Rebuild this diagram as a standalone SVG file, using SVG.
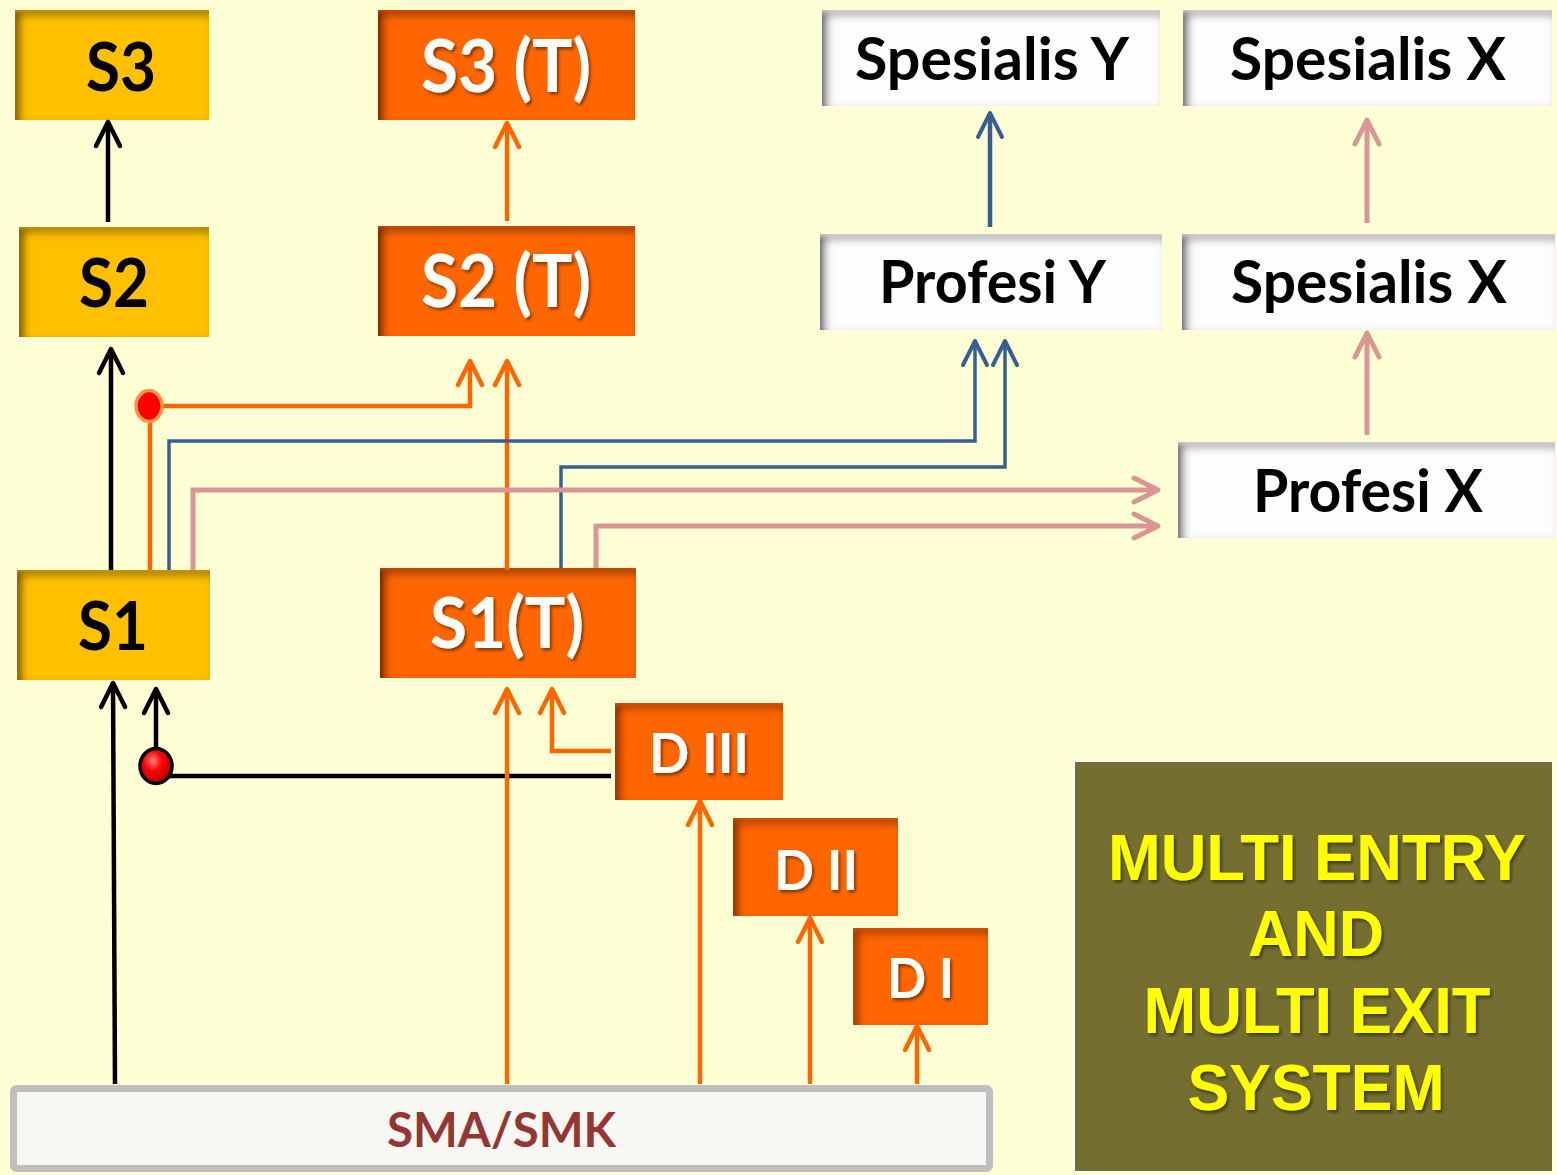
<svg xmlns="http://www.w3.org/2000/svg" width="1557" height="1175" viewBox="0 0 1557 1175">
<style>
.t{font-family:Lato,"Open Sans","Liberation Sans",sans-serif;font-weight:700}
.dark{fill:#000}
.wh{fill:#fff}
.sma{fill:#943634}
.ttl{font-family:"Liberation Sans",Arial,sans-serif;font-weight:700;fill:#FFFF00;font-size:64px;text-anchor:middle}
.yel{fill:#FFC000}
.org{fill:#FF6600}
.wbox{fill:#FDFDFD}
.c{fill:none;stroke-linejoin:miter}
.k{stroke:#000;stroke-width:4.5}
.o{stroke:#FF6600;stroke-width:4.5}
.b{stroke:#366092;stroke-width:3.5}
.p{stroke:#D99694;stroke-width:5}
</style>
<defs>
<filter id="inY" x="-5%" y="-5%" width="110%" height="110%">
<feComponentTransfer in="SourceAlpha"><feFuncA type="table" tableValues="1 0"/></feComponentTransfer>
<feGaussianBlur stdDeviation="4"/>
<feOffset dx="5" dy="5" result="off"/>
<feFlood flood-color="#4a3600" flood-opacity="1"/>
<feComposite in2="off" operator="in"/>
<feComposite in2="SourceAlpha" operator="in" result="sh"/>
<feMerge><feMergeNode in="SourceGraphic"/><feMergeNode in="sh"/></feMerge>
</filter>
<filter id="inO" x="-5%" y="-5%" width="110%" height="110%">
<feComponentTransfer in="SourceAlpha"><feFuncA type="table" tableValues="1 0"/></feComponentTransfer>
<feGaussianBlur stdDeviation="4"/>
<feOffset dx="5" dy="5" result="off"/>
<feFlood flood-color="#4a1800" flood-opacity="1"/>
<feComposite in2="off" operator="in"/>
<feComposite in2="SourceAlpha" operator="in" result="sh"/>
<feMerge><feMergeNode in="SourceGraphic"/><feMergeNode in="sh"/></feMerge>
</filter>
<filter id="inW" x="-5%" y="-5%" width="110%" height="110%">
<feComponentTransfer in="SourceAlpha"><feFuncA type="table" tableValues="1 0"/></feComponentTransfer>
<feGaussianBlur stdDeviation="4"/>
<feOffset dx="5" dy="5" result="off"/>
<feFlood flood-color="#505050" flood-opacity="1"/>
<feComposite in2="off" operator="in"/>
<feComposite in2="SourceAlpha" operator="in" result="sh"/>
<feMerge><feMergeNode in="SourceGraphic"/><feMergeNode in="sh"/></feMerge>
</filter>
<filter id="ts" x="-10%" y="-20%" width="120%" height="140%">
<feDropShadow dx="2" dy="2.5" stdDeviation="1.5" flood-color="#000" flood-opacity="0.45"/>
</filter>
<radialGradient id="redball" cx="0.4" cy="0.35" r="0.65">
<stop offset="0" stop-color="#FF8080"/>
<stop offset="0.45" stop-color="#FF0000"/>
<stop offset="1" stop-color="#B00000"/>
</radialGradient>
<marker id="ak" markerUnits="userSpaceOnUse" viewBox="-28 -16 32 32" markerWidth="32" markerHeight="32" refX="0" refY="0" orient="auto" overflow="visible">
<path d="M-24,-12 L0,0 L-24,12" fill="none" stroke="#000" stroke-width="4.5" stroke-linecap="round" stroke-linejoin="round"/>
</marker>
<marker id="ao" markerUnits="userSpaceOnUse" viewBox="-28 -16 32 32" markerWidth="32" markerHeight="32" refX="0" refY="0" orient="auto" overflow="visible">
<path d="M-24,-12 L0,0 L-24,12" fill="none" stroke="#FF6600" stroke-width="4.5" stroke-linecap="round" stroke-linejoin="round"/>
</marker>
<marker id="ab" markerUnits="userSpaceOnUse" viewBox="-28 -16 32 32" markerWidth="32" markerHeight="32" refX="0" refY="0" orient="auto" overflow="visible">
<path d="M-24,-12 L0,0 L-24,12" fill="none" stroke="#366092" stroke-width="4" stroke-linecap="round" stroke-linejoin="round"/>
</marker>
<marker id="ap" markerUnits="userSpaceOnUse" viewBox="-28 -16 32 32" markerWidth="32" markerHeight="32" refX="0" refY="0" orient="auto" overflow="visible">
<path d="M-24,-12 L0,0 L-24,12" fill="none" stroke="#D99694" stroke-width="5" stroke-linecap="round" stroke-linejoin="round"/>
</marker>
</defs>
<rect width="1557" height="1175" fill="#FFFFD5"/>

<g id="n-s3"><rect class="yel" x="15" y="10" width="194" height="110" filter="url(#inY)"/><text class="t dark" x="86" y="91" font-size="67" textLength="70" lengthAdjust="spacingAndGlyphs">S3</text></g>
<g id="n-s2"><rect class="yel" x="19" y="227" width="190" height="110" filter="url(#inY)"/><text class="t dark" x="79" y="307" font-size="67" textLength="70" lengthAdjust="spacingAndGlyphs">S2</text></g>
<g id="n-s1"><rect class="yel" x="17" y="570" width="193" height="110" filter="url(#inY)"/><text class="t dark" x="78" y="650" font-size="67" textLength="70" lengthAdjust="spacingAndGlyphs">S1</text></g>

<g id="n-s3t"><rect class="org" x="378" y="10" width="257" height="110" filter="url(#inO)"/><text class="t wh" x="421" y="92" font-size="72" textLength="170" lengthAdjust="spacingAndGlyphs" filter="url(#ts)">S3 (T)</text></g>
<g id="n-s2t"><rect class="org" x="378" y="226" width="257" height="110" filter="url(#inO)"/><text class="t wh" x="421" y="307" font-size="72" textLength="170" lengthAdjust="spacingAndGlyphs" filter="url(#ts)">S2 (T)</text></g>
<g id="n-s1t"><rect class="org" x="380" y="568" width="256" height="110" filter="url(#inO)"/><text class="t wh" x="430" y="648" font-size="70" textLength="154" lengthAdjust="spacingAndGlyphs" filter="url(#ts)">S1(T)</text></g>

<g id="n-d3"><rect class="org" x="615" y="703" width="168" height="97" filter="url(#inO)"/><text class="t wh" x="649" y="773" font-size="56" textLength="100" lengthAdjust="spacingAndGlyphs" filter="url(#ts)">D III</text></g>
<g id="n-d2"><rect class="org" x="733" y="818" width="165" height="98" filter="url(#inO)"/><text class="t wh" x="774" y="890" font-size="56" textLength="84" lengthAdjust="spacingAndGlyphs" filter="url(#ts)">D II</text></g>
<g id="n-d1"><rect class="org" x="853" y="928" width="135" height="97" filter="url(#inO)"/><text class="t wh" x="887" y="998" font-size="56" textLength="67" lengthAdjust="spacingAndGlyphs" filter="url(#ts)">D I</text></g>

<g id="n-spy"><rect class="wbox" x="822" y="10" width="338" height="96" filter="url(#inW)"/><text class="t dark" x="855" y="80" font-size="60" textLength="274" lengthAdjust="spacingAndGlyphs">Spesialis Y</text></g>
<g id="n-spx1"><rect class="wbox" x="1183" y="10" width="369" height="96" filter="url(#inW)"/><text class="t dark" x="1230" y="80" font-size="60" textLength="276" lengthAdjust="spacingAndGlyphs">Spesialis X</text></g>
<g id="n-pry"><rect class="wbox" x="820" y="234" width="342" height="96" filter="url(#inW)"/><text class="t dark" x="879" y="303" font-size="60" textLength="227" lengthAdjust="spacingAndGlyphs">Profesi Y</text></g>
<g id="n-spx2"><rect class="wbox" x="1182" y="234" width="373" height="96" filter="url(#inW)"/><text class="t dark" x="1231" y="303" font-size="60" textLength="276" lengthAdjust="spacingAndGlyphs">Spesialis X</text></g>
<g id="n-prx"><rect class="wbox" x="1178" y="442" width="377" height="96" filter="url(#inW)"/><text class="t dark" x="1253" y="512" font-size="60" textLength="230" lengthAdjust="spacingAndGlyphs">Profesi X</text></g>

<g id="n-sma"><rect x="13.5" y="1088.5" width="976" height="80" rx="3" fill="#F8F7F3" stroke="#BFBFBF" stroke-width="7"/><text class="t sma" x="387" y="1147" font-size="48" textLength="229" lengthAdjust="spacingAndGlyphs">SMA/SMK</text></g>

<g id="n-title"><rect x="1074" y="761" width="479" height="411" fill="#746E30" stroke="#FFFFFF" stroke-width="2"/>
<g class="ttl" filter="url(#ts)">
<text x="1317" y="880" textLength="418" lengthAdjust="spacingAndGlyphs">MULTI ENTRY</text>
<text x="1316" y="956" textLength="136" lengthAdjust="spacingAndGlyphs">AND</text>
<text x="1317" y="1033" textLength="347" lengthAdjust="spacingAndGlyphs">MULTI EXIT</text>
<text x="1316" y="1110" textLength="257" lengthAdjust="spacingAndGlyphs">SYSTEM</text>
</g></g>

<g id="connectors">
<path class="c k" d="M108,222 V122" marker-end="url(#ak)"/>
<path class="c k" d="M111,570 V349" marker-end="url(#ak)"/>
<path class="c k" d="M115,1084 L113,683" marker-end="url(#ak)"/>
<path class="c k" d="M611,776 H156 V689" marker-end="url(#ak)"/>
<path class="c o" d="M507,221 V123" marker-end="url(#ao)"/>
<path class="c o" d="M507,570 V361" marker-end="url(#ao)"/>
<path class="c o" d="M150,570 V406 H470 V361" marker-end="url(#ao)"/>
<path class="c o" d="M507,1084 V689" marker-end="url(#ao)"/>
<path class="c o" d="M611,751 H552 V689" marker-end="url(#ao)"/>
<path class="c o" d="M700,1084 V801" marker-end="url(#ao)"/>
<path class="c o" d="M810,1084 V918" marker-end="url(#ao)"/>
<path class="c o" d="M917,1084 V1026" marker-end="url(#ao)"/>
<path class="c b" d="M169,570 V441 H975 V341" marker-end="url(#ab)"/>
<path class="c b" d="M561,568 V467 H1005 V341" marker-end="url(#ab)"/>
<path class="c b" style="stroke-width:4.5" d="M990,227 V113" marker-end="url(#ab)"/>
<path class="c p" d="M193,570 V490 H1158" marker-end="url(#ap)"/>
<path class="c p" d="M596,568 V526 H1158" marker-end="url(#ap)"/>
<path class="c p" d="M1367,435 V333" marker-end="url(#ap)"/>
<path class="c p" d="M1367,223 V120" marker-end="url(#ap)"/>
<ellipse cx="149" cy="406" rx="13" ry="15.5" fill="#FF0000" stroke="#F79646" stroke-width="3.5"/>
<ellipse cx="156" cy="766" rx="16" ry="17.5" fill="url(#redball)" stroke="#000" stroke-width="3.5"/>
</g>
</svg>
